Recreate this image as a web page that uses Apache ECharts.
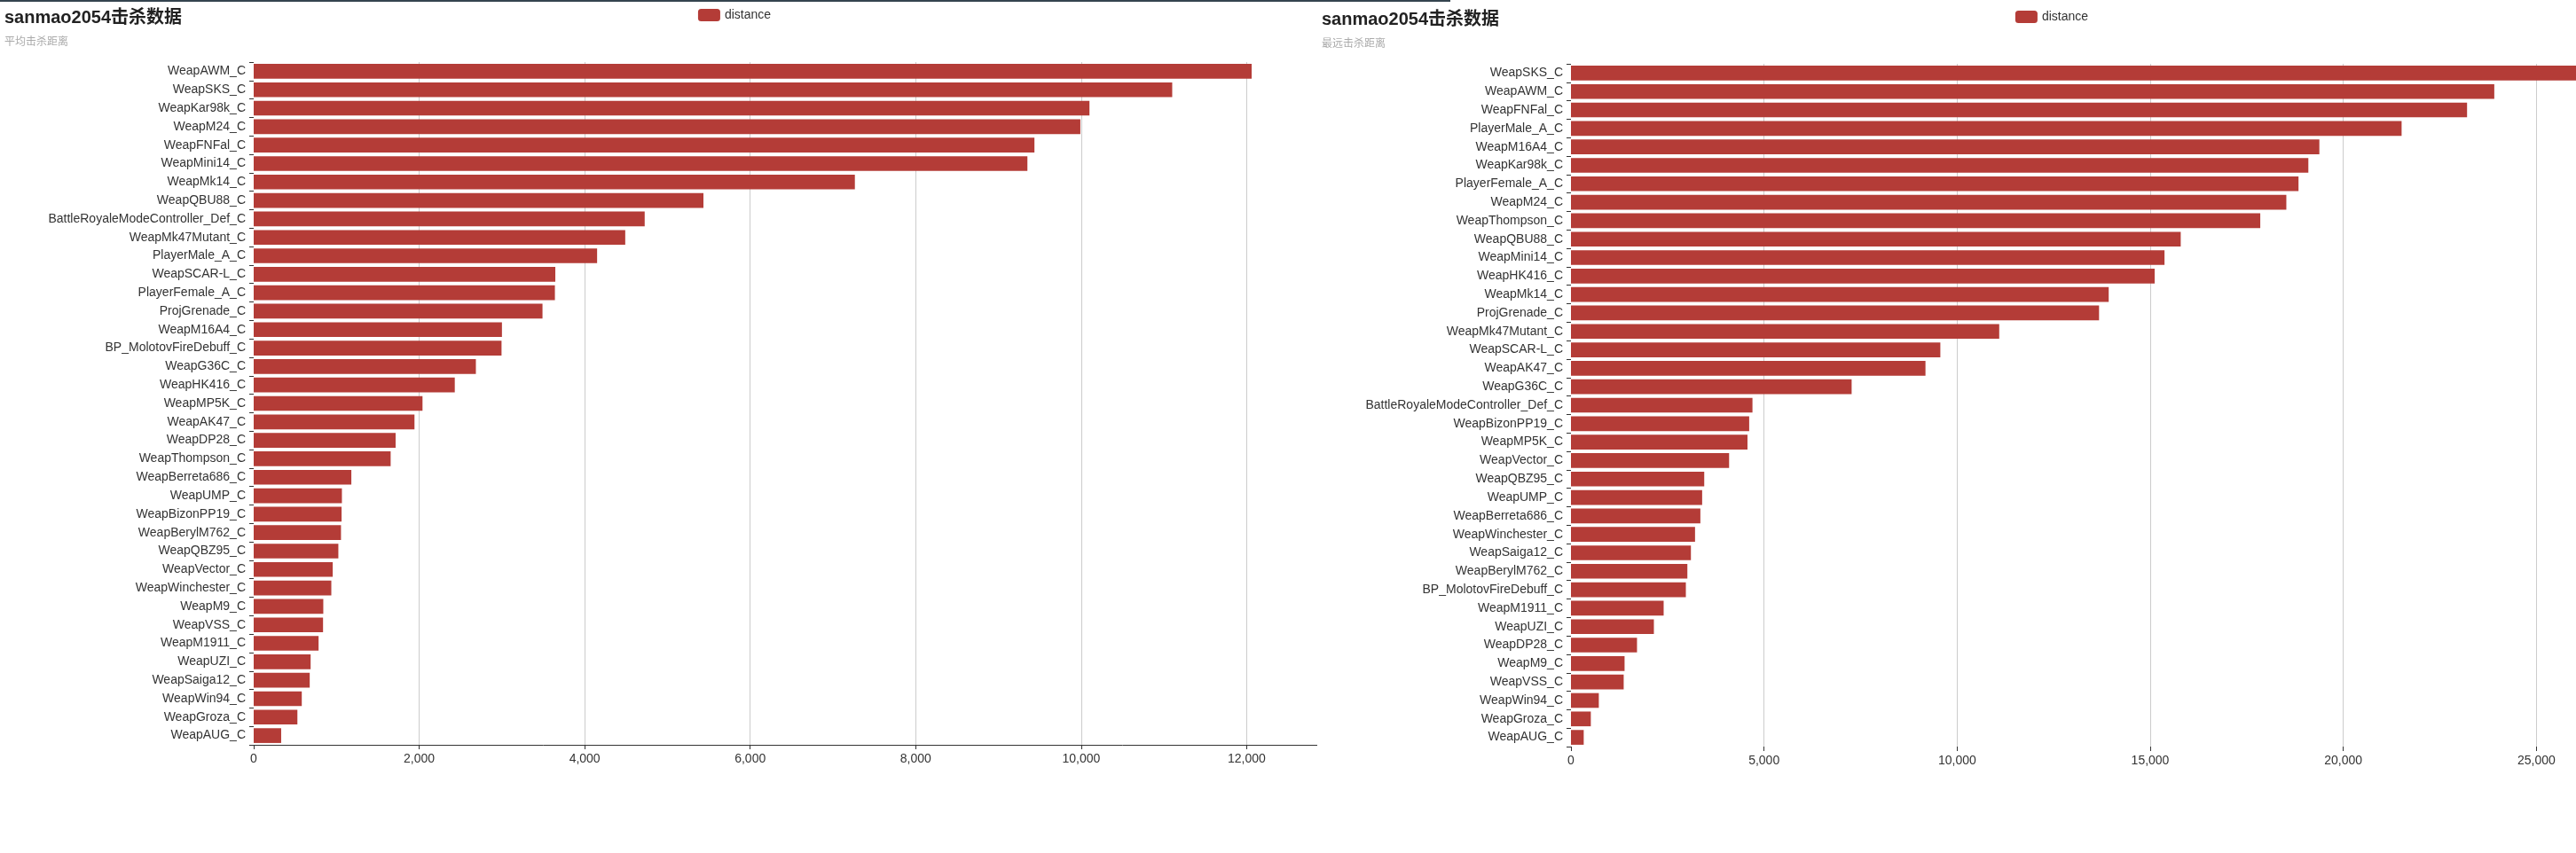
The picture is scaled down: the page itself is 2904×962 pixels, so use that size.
<!DOCTYPE html>
<html>
<head>
<meta charset="utf-8">
<script src="https://cdn.jsdelivr.net/npm/echarts@6/dist/echarts.min.js"></script>
<style>
  html, body { margin: 0; padding: 0; width: 2904px; height: 962px; overflow: hidden; background: #fff; }
  #left { position: absolute; left: 0; top: 0; width: 1656px; height: 962px; background: #fff; }
  #right { position: absolute; left: 1485px; top: 2px; width: 1656px; height: 960px; background: #fff; }
  #strip { position: absolute; left: 0; top: 0; width: 1635px; height: 2px; background: #34444f; z-index: 10; }
</style>
</head>
<body>
<div id="left"></div>
<div id="right"></div>
<div id="strip"></div>
<script>
// ---- Data ----
const chartTitle = 'sanmao2054击杀数据';
const seriesName = 'distance';

const avgSubtitle = '平均击杀距离';
const avgCategories = [
  'WeapAWM_C', 'WeapSKS_C', 'WeapKar98k_C', 'WeapM24_C', 'WeapFNFal_C', 'WeapMini14_C',
  'WeapMk14_C', 'WeapQBU88_C', 'BattleRoyaleModeController_Def_C', 'WeapMk47Mutant_C',
  'PlayerMale_A_C', 'WeapSCAR-L_C', 'PlayerFemale_A_C', 'ProjGrenade_C', 'WeapM16A4_C',
  'BP_MolotovFireDebuff_C', 'WeapG36C_C', 'WeapHK416_C', 'WeapMP5K_C', 'WeapAK47_C',
  'WeapDP28_C', 'WeapThompson_C', 'WeapBerreta686_C', 'WeapUMP_C', 'WeapBizonPP19_C',
  'WeapBerylM762_C', 'WeapQBZ95_C', 'WeapVector_C', 'WeapWinchester_C', 'WeapM9_C',
  'WeapVSS_C', 'WeapM1911_C', 'WeapUZI_C', 'WeapSaiga12_C', 'WeapWin94_C', 'WeapGroza_C',
  'WeapAUG_C'
];
const avgValues = [
  12060, 11100, 10100, 9990, 9435, 9350,
  7265, 5435, 4725, 4490,
  4150, 3645, 3640, 3490, 3000,
  2995, 2685, 2430, 2040, 1943,
  1715, 1655, 1180, 1066, 1062,
  1055, 1023, 955, 938, 841,
  838, 784, 688, 677, 581, 528,
  332
];
const avgTicks = { min: 0, max: 14000, interval: 2000 };

const maxSubtitle = '最远击杀距离';
const maxCategories = [
  'WeapSKS_C', 'WeapAWM_C', 'WeapFNFal_C', 'PlayerMale_A_C', 'WeapM16A4_C', 'WeapKar98k_C',
  'PlayerFemale_A_C', 'WeapM24_C', 'WeapThompson_C', 'WeapQBU88_C', 'WeapMini14_C',
  'WeapHK416_C', 'WeapMk14_C', 'ProjGrenade_C', 'WeapMk47Mutant_C', 'WeapSCAR-L_C',
  'WeapAK47_C', 'WeapG36C_C', 'BattleRoyaleModeController_Def_C', 'WeapBizonPP19_C',
  'WeapMP5K_C', 'WeapVector_C', 'WeapQBZ95_C', 'WeapUMP_C', 'WeapBerreta686_C',
  'WeapWinchester_C', 'WeapSaiga12_C', 'WeapBerylM762_C', 'BP_MolotovFireDebuff_C',
  'WeapM1911_C', 'WeapUZI_C', 'WeapDP28_C', 'WeapM9_C', 'WeapVSS_C', 'WeapWin94_C',
  'WeapGroza_C', 'WeapAUG_C'
];
const maxValues = [
  26800, 23910, 23205, 21510, 19380, 19095,
  18840, 18525, 17850, 15790, 15370,
  15115, 13925, 13675, 11090, 9565,
  9180, 7268, 4700, 4615,
  4571, 4095, 3451, 3397, 3351,
  3213, 3106, 3014, 2975,
  2400, 2147, 1710, 1388, 1365, 721,
  514, 330
];
const maxTicks = { min: 0, max: 30000, interval: 5000 };

// ---- Styles ----
const FONT = "'Liberation Sans', 'Noto Sans CJK SC', sans-serif";
const BAR_COLOR = '#b43c37';

function buildOption(subtitle, cats, vals, ticks, showXAxisLine) {
  return {
    animation: false,
    textStyle: { fontFamily: FONT },
    title: {
      text: chartTitle,
      subtext: subtitle,
      left: 0,
      top: 5,
      padding: [5, 5],
      itemGap: 12,
      textStyle: { fontFamily: FONT, fontSize: 20, fontWeight: 'bold', color: '#222' },
      subtextStyle: { fontFamily: FONT, fontSize: 12, color: '#aaa' }
    },
    legend: {
      top: 5,
      left: 'center',
      itemWidth: 25,
      itemHeight: 14,
      data: [seriesName],
      textStyle: { fontFamily: FONT, fontSize: 14, color: '#333' }
    },
    grid: { left: 286, right: 64, top: 70, height: 770, containLabel: false },
    xAxis: {
      type: 'value',
      min: ticks.min,
      max: ticks.max,
      interval: ticks.interval,
      axisLine: { show: showXAxisLine, lineStyle: { color: '#333', width: 1 } },
      axisTick: { show: true, length: 5, lineStyle: { color: '#333' } },
      axisLabel: { color: '#333', fontSize: 14, margin: 9, fontFamily: FONT },
      splitLine: { show: true, showMinLine: false, lineStyle: { color: '#ccc' } }
    },
    yAxis: {
      type: 'category',
      inverse: true,
      data: cats,
      axisLine: { show: false },
      axisTick: { show: true, length: 5, lineStyle: { color: '#333' } },
      axisLabel: { interval: 0, color: '#333', fontSize: 14, margin: 9, fontFamily: FONT },
      splitLine: { show: false }
    },
    series: [{
      name: seriesName,
      type: 'bar',
      data: vals,
      barCategoryGap: '20%',
      itemStyle: { color: BAR_COLOR }
    }]
  };
}

const leftChart = echarts.init(document.getElementById('left'), null, { renderer: 'canvas' });
leftChart.setOption(buildOption(avgSubtitle, avgCategories, avgValues, avgTicks, true));

const rightChart = echarts.init(document.getElementById('right'), null, { renderer: 'canvas' });
rightChart.setOption(buildOption(maxSubtitle, maxCategories, maxValues, maxTicks, false));
</script>
</body>
</html>
